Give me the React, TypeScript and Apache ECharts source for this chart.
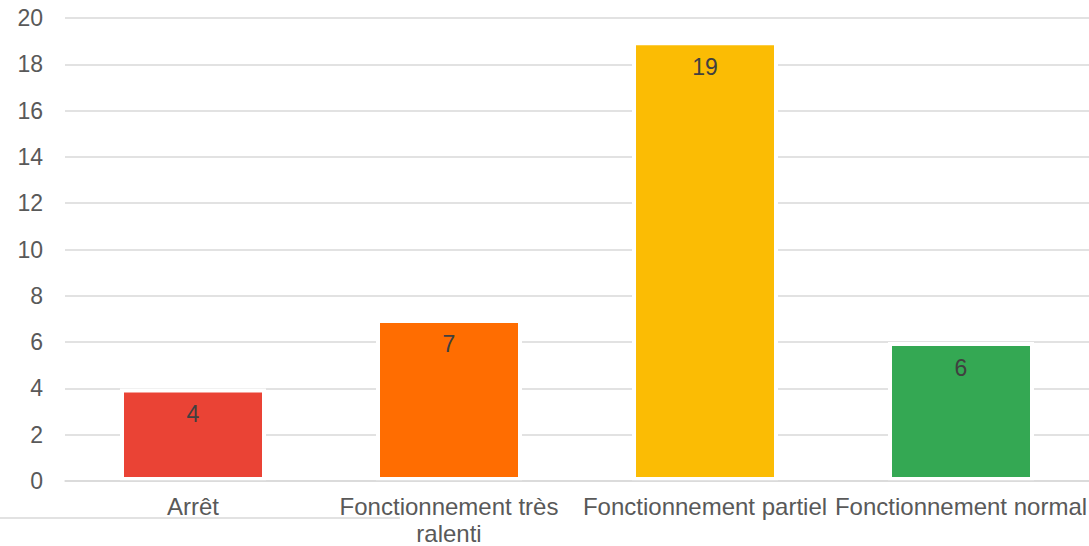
import React, { useEffect, useRef } from "react";
import * as echarts from "echarts";

const categories = ["Arrêt", "Fonctionnement très ralenti", "Fonctionnement partiel", "Fonctionnement normal"];
const axisLabels = ["Arrêt", "Fonctionnement très\nralenti", "Fonctionnement partiel", "Fonctionnement normal"];
const values = [4, 7, 19, 6];
const colors = ["#EA4335", "#FF6D01", "#FBBC04", "#34A853"];

export default function App() {
  const ref = useRef<HTMLDivElement>(null);
  useEffect(() => {
    if (!ref.current) return;
    const chart = echarts.init(ref.current, undefined, { renderer: "svg" });
    const font = "'Liberation Sans', Arial, sans-serif";
    chart.setOption({
      animation: false,
      textStyle: { fontFamily: font },
      grid: { left: 65, right: 0, top: 18, bottom: 65, containLabel: false, outerBoundsMode: "none" },
      xAxis: {
        type: "category",
        data: categories,
        z: 5,
        axisLine: { show: true, lineStyle: { color: "#d9d9d9", width: 1.5 } },
        axisTick: { show: false },
        axisLabel: {
          color: "#595959",
          fontSize: 24,
          fontFamily: font,
          margin: 12,
          lineHeight: 27,
          interval: 0,
          hideOverlap: false,
          formatter: (_v: string, i: number) => axisLabels[i],
        },
      },
      yAxis: {
        type: "value",
        min: 0,
        max: 20,
        interval: 2,
        axisLine: { show: false },
        axisTick: { show: false },
        splitLine: { lineStyle: { color: "#d9d9d9", width: 1.5 } },
        axisLabel: { color: "#595959", fontSize: 23, fontFamily: font, margin: 22 },
      },
      series: [
        {
          type: "bar",
          barWidth: 146,
          data: values.map((v, i) => ({
            value: v,
            itemStyle: { color: colors[i], borderColor: "#ffffff", borderWidth: 4 },
          })),
          label: {
            show: true,
            position: "insideTop",
            distance: 14,
            color: "#404040",
            fontSize: 23,
            fontFamily: font,
          },
        },
      ],
      graphic: [
        {
          type: "line",
          shape: { x1: 0, y1: 518, x2: 400, y2: 518 },
          style: { stroke: "#d9d9d9", lineWidth: 1.5 },
        },
      ],
    });
    return () => chart.dispose();
  }, []);
  return <div ref={ref} style={{ width: 1089, height: 546, position: "absolute", left: 0, top: 0 }} />;
}
